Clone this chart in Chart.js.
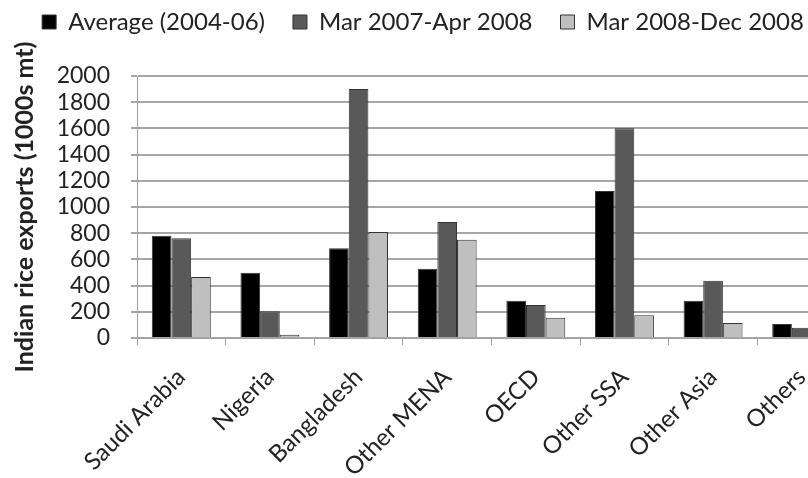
<!DOCTYPE html>
<html>
<head>
<meta charset="utf-8">
<script src="https://cdn.jsdelivr.net/npm/chart.js@4/dist/chart.umd.min.js"></script>
<style>
  html, body { margin: 0; padding: 0; background: #fff; overflow: hidden; }
  #wrap { position: relative; width: 860px; height: 478px; }
</style>
</head>
<body>
<div id="wrap"><canvas id="chart"></canvas></div>
<script>
// Indian rice exports by destination (thousand metric tonnes)
const categories = ['Saudi Arabia', 'Nigeria', 'Bangladesh', 'Other MENA', 'OECD', 'Other SSA', 'Other Asia', 'Others'];
const seriesNames = ['Average (2004-06)', 'Mar 2007-Apr 2008', 'Mar 2008-Dec 2008'];
const average2004to06 = [781, 498, 685, 529, 285, 1122, 285, 107];
const mar2007toApr2008 = [761, 204, 1901, 885, 252, 1601, 437, 79];
const mar2008toDec2008 = [466, 25, 809, 750, 155, 173, 114, 45];
const yTicks = [0, 200, 400, 600, 800, 1000, 1200, 1400, 1600, 1800, 2000];

const FONT = 'Lato';
const fills = ['#000000', '#595959', '#bfbfbf'];

// Reserve a fixed band at the top for the legend
const legendHeight = {
  id: 'legendHeight',
  beforeInit(chart) {
    const fit = chart.legend.fit;
    chart.legend.fit = function () {
      fit.bind(chart.legend)();
      this.height = 94;
    };
  }
};

new Chart(document.getElementById('chart'), {
  type: 'bar',
  data: {
    labels: categories,
    datasets: [average2004to06, mar2007toApr2008, mar2008toDec2008].map((values, i) => ({
      label: seriesNames[i],
      data: values,
      backgroundColor: fills[i],
      borderColor: '#333333',
      borderWidth: 1,
      borderSkipped: 'bottom',
      categoryPercentage: 0.665,
      barPercentage: 1.0
    }))
  },
  options: {
    responsive: true,
    maintainAspectRatio: false,
    animation: false,
    layout: { padding: { left: 0, right: 14, top: -18, bottom: 0 } },
    plugins: {
      tooltip: { enabled: false },
      legend: {
        position: 'top',
        align: 'center',
        labels: {
          font: { family: FONT, size: 24 },
          color: '#222',
          boxWidth: 14,
          boxHeight: 14,
          padding: 28
        }
      }
    },
    scales: {
      x: {
        grid: { display: true, drawOnChartArea: false, drawTicks: true, tickLength: 7, color: '#a0a0a0', lineWidth: 1 },
        border: { display: true, color: '#a0a0a0', width: 1 },
        ticks: {
          font: { family: FONT, size: 24 },
          color: '#222',
          minRotation: 45,
          maxRotation: 45,
          padding: 18,
          autoSkip: false
        },
        afterFit(scale) { scale.height = 140; }
      },
      y: {
        min: 0,
        max: 2000,
        afterBuildTicks(scale) { scale.ticks = yTicks.map(v => ({ value: v })); },
        grid: { color: '#a6a6a6', lineWidth: 2, tickLength: 6, drawTicks: true },
        border: { display: true, color: '#a0a0a0', width: 1 },
        ticks: {
          font: { family: FONT, size: 23 },
          color: '#222',
          padding: 21,
          autoSkip: false,
          callback: (v) => String(v)
        },
        title: {
          display: true,
          text: 'Indian rice exports (1000s mt)',
          font: { family: FONT, size: 25, weight: 'bold' },
          color: '#222',
          padding: { top: 10, bottom: 0 }
        },
        afterFit(scale) { scale.width = 137; }
      }
    }
  },
  plugins: [legendHeight]
});
</script>
</body>
</html>
